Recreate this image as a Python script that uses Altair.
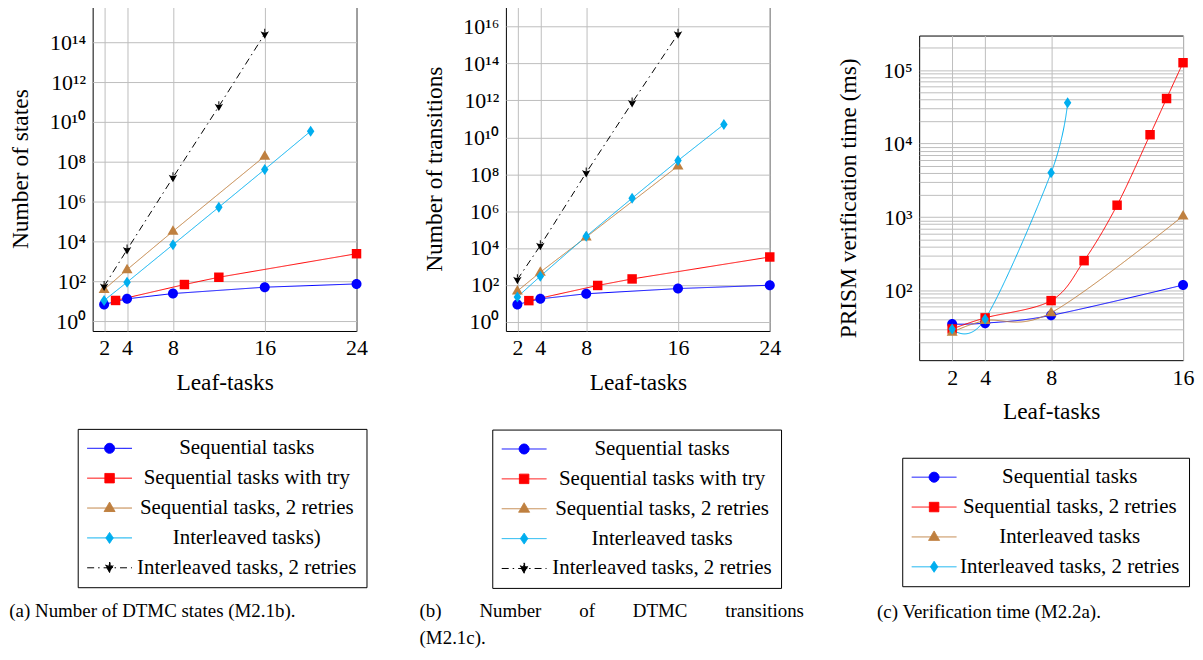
import altair as alt
import pandas as pd

FONT = "Liberation Serif"
W, H = 265, 326

BLUE, RED, BROWN, CYAN, BLACK = "#0000ff", "#ff0000", "#bf8040", "#00aeef", "#000000"
SOLID = [1, 0]
DASHDOT = [7, 4, 1.5, 4]

# ---------------- panel (a): number of DTMC states ----------------
a_names = ["Sequential tasks", "Sequential tasks with try", "Sequential tasks, 2 retries",
           "Interleaved tasks)", "Interleaved tasks, 2 retries"]
a_seq_x = [2, 4, 8, 16, 24]
a_seq_y = [6.8, 13, 24, 50, 73]
a_try_x = [3, 9, 12, 24]
a_try_y = [10.8, 68, 158, 2400]
a_ret_x = [2, 4, 8, 16]
a_ret_y = [38, 380, 3.2e4, 1.9e8]
a_int_x = [2, 4, 8, 12, 16, 20]
a_int_y = [10.8, 89, 6800, 5.2e5, 4.1e7, 3.4e9]
a_int2_x = [2, 4, 8, 12, 16]
a_int2_y = [56, 3800, 1.6e7, 6e10, 2.6e14]
a_yticks = [1e0, 1e2, 1e4, 1e6, 1e8, 1e10, 1e12, 1e14]
a_ylabels = ["10⁰", "10²", "10⁴", "10⁶", "10⁸", "10¹⁰", "10¹²", "10¹⁴"]

# ---------------- panel (b): number of DTMC transitions ----------------
b_names = ["Sequential tasks", "Sequential tasks with try", "Sequential tasks, 2 retries",
           "Interleaved tasks", "Interleaved tasks, 2 retries"]
b_seq_x = [2, 4, 8, 16, 24]
b_seq_y = [8.7, 17.5, 33, 63, 96]
b_try_x = [3, 9, 12, 24]
b_try_y = [14, 93, 210, 3250]
b_ret_x = [2, 4, 8, 16]
b_ret_y = [46, 490, 3.9e4, 2.8e8]
b_int_x = [2, 4, 8, 12, 16, 20]
b_int_y = [22, 295, 4.3e4, 5e6, 5.5e8, 5e10]
b_int2_x = [2, 4, 8, 12, 16]
b_int2_y = [195, 1.35e4, 1.2e8, 7.5e11, 4e15]
b_yticks = [1e0, 1e2, 1e4, 1e6, 1e8, 1e10, 1e12, 1e14, 1e16]
b_ylabels = ["10⁰", "10²", "10⁴", "10⁶", "10⁸", "10¹⁰", "10¹²", "10¹⁴", "10¹⁶"]

# ---------------- panel (c): verification time ----------------
c_names = ["Sequential tasks", "Sequential tasks, 2 retries", "Interleaved tasks",
           "Interleaved tasks, 2 retries"]
c_seq_x = [2, 4, 8, 16]
c_seq_y = [35, 36, 46, 119]
c_seq2_x = [2, 4, 8, 10, 12, 14, 15, 16]
c_seq2_y = [30, 42.5, 73, 255, 1450, 1.32e4, 4.1e4, 1.26e5]
c_int_x = [2, 4, 8, 16]
c_int_y = [27, 39, 50, 1036]
c_int2_x = [2, 4, 8, 9]
c_int2_y = [30, 41, 4000, 3.6e4]
c_major = [1e2, 1e3, 1e4, 1e5]
c_ylabels = ["10²", "10³", "10⁴", "10⁵"]
c_minor = [m * 10 ** e for e in range(1, 6) for m in range(2, 10) if 11.3 < m * 10 ** e < 2.9e5]

x_ticks_ab = [2, 4, 8, 16, 24]
x_ticks_c = [2, 4, 8, 16]

captions = {
    "a": "(a) Number of DTMC states (M2.1b).",
    "b": ["(b)" + "\u00a0" * 8 + "Number" + "\u00a0" * 8 + "of" + "\u00a0" * 8 + "DTMC"
          + "\u00a0" * 8 + "transitions", "(M2.1c)."],
    "c": "(c) Verification time (M2.2a).",
}


# marker paths (unit square -1..1), dx shifts the marker horizontally
def circle(dx):
    return f"M{dx+1},0A1,1 0 1,1 {dx-1},0A1,1 0 1,1 {dx+1},0Z"


def square(dx):
    s = 0.95
    return f"M{dx-s},{-s}H{dx+s}V{s}H{dx-s}Z"


def triangle(dx):
    return f"M{dx},-1.2L{dx+1.1},0.7L{dx-1.1},0.7Z"


def diamond(dx):
    return f"M{dx},-1.1L{dx+0.75},0L{dx},1.1L{dx-0.75},0Z"


def arrow(dx):
    return (f"M{dx-0.85},-0.55Q{dx},-0.05 {dx+0.85},-0.55L{dx},0.95Z"
            f"M{dx-0.1},-1.05H{dx+0.1}V-0.35H{dx-0.1}Z")


def legend_path(fn):
    # short line through the marker, as in the reference legend
    return "M-2,0H7" + fn(2.5)


def label_expr(values, labels):
    parts = [f"datum.value == {float(v)!r} ? '{l}'" for v, l in zip(values, labels)]
    return " : ".join(parts) + " : ''"


def panel(names, xs, ys, colors, markers, dashes, xdom, xvals, ydom, ymajor, yminor, ylabels,
          ytitle, ytitle_x, interp, caption, cap_off, cap_dx, leg_x, leg_y, lab_off, lab_pad):
    rows = []
    for i, (n, xx, yy) in enumerate(zip(names, xs, ys)):
        for x, y in zip(xx, yy):
            rows.append({"series": n, "x": x, "y": y, "k": i})
    df = pd.DataFrame(rows)
    xenc = alt.X("x:Q", scale=alt.Scale(domain=xdom, nice=False, zero=False),
                 axis=alt.Axis(values=xvals, title="Leaf-tasks", format="d"))
    yenc = alt.Y("y:Q", scale=alt.Scale(type="log", domain=ydom, nice=False),
                 axis=alt.Axis(values=ymajor + yminor, labelExpr=label_expr(ymajor, ylabels),
                               title=ytitle, titleX=ytitle_x, titleY=H / 2,
                               titleBaseline="alphabetic"))
    base = alt.Chart(df)
    cscale = alt.Scale(domain=names, range=colors)
    dscale = alt.Scale(domain=names, range=dashes)
    lines = base.mark_line(strokeWidth=1, interpolate=interp).encode(
        x=xenc, y=yenc,
        color=alt.Color("series:N", scale=cscale, legend=None),
        strokeDash=alt.StrokeDash("series:N", scale=dscale, legend=None),
    )
    pts = base.mark_point(filled=True, opacity=1, size=100).encode(
        x=xenc, y=yenc,
        color=alt.Color("series:N", scale=cscale, legend=None),
        shape=alt.Shape("series:N", scale=alt.Scale(domain=names, range=[m(0) for m in markers]),
                        legend=None),
        order=alt.Order("k:Q"),
    )
    leg = alt.Legend(orient="none", legendX=leg_x, legendY=leg_y, title=None, direction="vertical",
                     strokeColor="black", fillColor="white", padding=9, rowPadding=8,
                     labelAlign="center", labelOffset=lab_off, labelLimit=600, symbolSize=100,
                     symbolStrokeWidth=1, labelFont=FONT, labelFontSize=21, labelColor="black",
                     cornerRadius=0, labelExpr=f"datum.label + '{lab_pad}'")
    legl = base.transform_filter("false").mark_point(filled=True, opacity=1, size=100,
                                                     strokeWidth=1).encode(
        x=xenc, y=yenc,
        fill=alt.Fill("series:N", scale=alt.Scale(domain=names, range=colors), legend=leg),
        stroke=alt.Stroke("series:N", scale=alt.Scale(domain=names, range=colors), legend=leg),
        shape=alt.Shape("series:N", scale=alt.Scale(domain=names,
                                                    range=[legend_path(m) for m in markers]),
                        legend=leg),
        strokeDash=alt.StrokeDash("series:N", scale=alt.Scale(domain=names, range=dashes),
                                  legend=leg),
    )
    return alt.layer(lines, pts, legl).resolve_scale(
        shape="independent", strokeDash="independent", fill="independent", stroke="independent"
    ).properties(
        width=W, height=H,
        title=alt.TitleParams(caption, orient="bottom", anchor="start", frame="group",
                              offset=cap_off, dx=cap_dx, baseline="top", font=FONT,
                              fontSize=19, fontWeight="normal", color="black", lineHeight=27),
    )


ab_colors = [BLUE, RED, BROWN, CYAN, BLACK]
ab_markers = [circle, square, triangle, diamond, arrow]
ab_dashes = [SOLID, SOLID, SOLID, SOLID, DASHDOT]
NB = "\u00a0"

pa = panel(a_names, [a_seq_x, a_try_x, a_ret_x, a_int_x, a_int2_x],
           [a_seq_y, a_try_y, a_ret_y, a_int_y, a_int2_y],
           ab_colors, ab_markers, ab_dashes, [1, 24], x_ticks_ab,
           [10 ** -0.5, 10 ** 15.8], a_yticks, [], a_ylabels, "Number of states", -65.5, "linear",
           captions["a"], 14, -83.7, -15, 424.3, 139.8, NB)

pb = panel(b_names, [b_seq_x, b_try_x, b_ret_x, b_int_x, b_int2_x],
           [b_seq_y, b_try_y, b_ret_y, b_int_y, b_int2_y],
           ab_colors, ab_markers, ab_dashes, [1, 24], x_ticks_ab,
           [10 ** -0.5, 10 ** 17.1], b_yticks, [], b_ylabels, "Number of transitions", -65,
           "linear", captions["b"], 14, -86.7, -13.7, 425, 140.5, NB)

pc = panel(c_names, [c_seq_x, c_seq2_x, c_int_x, c_int2_x],
           [c_seq_y, c_seq2_y, c_int_y, c_int2_y],
           [BLUE, RED, BROWN, CYAN], [circle, square, triangle, diamond],
           [SOLID, SOLID, SOLID, SOLID], [0, 16], x_ticks_c,
           [10 ** 1.053, 10 ** 5.47], c_major, c_minor, c_ylabels,
           "PRISM verification time (ms)", -63.8, "cardinal",
           captions["c"], 16, -42.3, -17, 424, 138.2, "")

spacer = alt.Chart(pd.DataFrame({"v": [0.5]})).mark_point(opacity=0, size=1).encode(
    x=alt.X("v:Q", axis=None, scale=alt.Scale(domain=[0, 1])),
    y=alt.Y("v:Q", axis=None, scale=alt.Scale(domain=[0, 1])),
).properties(width=W, height=1, view=alt.ViewBackground(stroke="transparent"))

c_cell = alt.vconcat(spacer, pc, spacing=28.3, bounds="flush")

chart = alt.hconcat(pa, pb, c_cell, spacing=150, bounds="flush").resolve_scale(
    color="independent", shape="independent", strokeDash="independent",
    fill="independent", stroke="independent",
).properties(
    padding={"left": 0, "top": -4, "right": 0, "bottom": 0}
).configure(font=FONT).configure_view(stroke="black", strokeWidth=1).configure_axis(
    labelFont=FONT, labelFontSize=22, labelColor="black", titleFont=FONT, titleFontSize=23.5,
    titleFontWeight="normal", titleColor="black", grid=True, gridColor="#bdbdbd", gridWidth=1,
    domain=False, ticks=False, tickSize=0, labelFlush=False, labelOverlap=False,
).configure_axisX(labelPadding=7, titlePadding=12).configure_axisY(
    labelPadding=7
).configure_legend(labelFont=FONT, labelFontSize=21).configure_title(font=FONT)

chart.save("out.html", embed_options={"renderer": "svg", "actions": False})
